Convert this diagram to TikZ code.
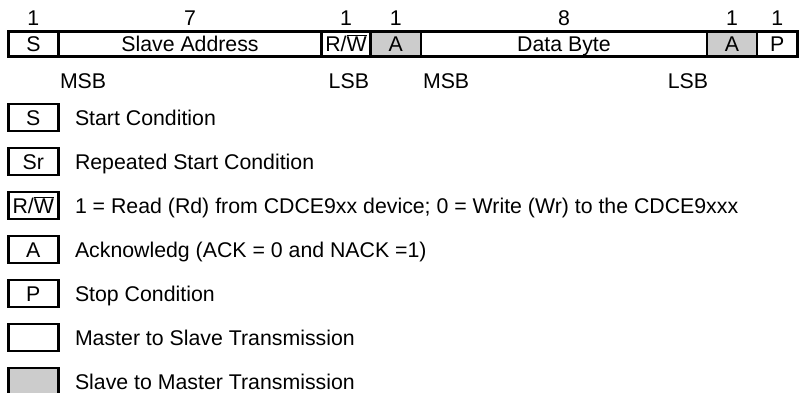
\documentclass[tikz,border=0pt]{standalone}
\usepackage{fontspec}
\setmainfont{Liberation Sans}
\definecolor{slavegray}{RGB}{204,204,204}
\begin{document}
\begin{tikzpicture}[x=1pt,y=-1pt,
  every node/.style={font=\fontsize{21.3}{25}\selectfont, inner sep=0pt, outer sep=0pt},
  cell/.style={draw, line width=2.7pt, minimum height=25.5pt},
  sgray/.style={fill=slavegray},
  lbl/.style={anchor=base},
  lgbox/.style={draw, line width=2.7pt, minimum width=50pt, minimum height=27pt},
  lgtext/.style={anchor=base west}
]
\useasboundingbox (0,0) rectangle (799,392);
% --- frame bar ---
\node[cell, minimum width=50.25pt] (s)   at (33.4,44) {};
\node[cell, minimum width=263pt]   (sa)  at (190,44) {};
\node[cell, minimum width=49pt]    (rw)  at (346,44) {};
\node[cell, sgray, minimum width=50.5pt] (a1) at (395.75,44) {};
\node[cell, minimum width=286pt]   (db)  at (564,44) {};
\node[cell, sgray, minimum width=50pt]   (a2) at (732,44) {};
\node[cell, minimum width=40.5pt]  (p)   at (777.25,44) {};
% labels in cells
\node[lbl] (ts)  at (33.4,51.5) {S};
\node[lbl] (tsa) at (190,51.5) {Slave Address};
\node[lbl] (trw) at (346,51.5) {R/$\overline{\hbox{W}}$};
\node[lbl] (ta1) at (395.75,51.5) {A};
\node[lbl] (tdb) at (564,51.5) {Data Byte};
\node[lbl] (ta2) at (732,51.5) {A};
\node[lbl] (tp)  at (777.25,51.5) {P};
% bit counts
\node[lbl] (n1) at (33.4,25.5) {1};
\node[lbl] (n2) at (190,25.5) {7};
\node[lbl] (n3) at (346,25.5) {1};
\node[lbl] (n4) at (395.75,25.5) {1};
\node[lbl] (n5) at (564,25.5) {8};
\node[lbl] (n6) at (732,25.5) {1};
\node[lbl] (n7) at (777.25,25.5) {1};
% MSB / LSB
\node[anchor=base west] (msb1) at (60,88.5) {MSB};
\node[anchor=base east] (lsb1) at (369,88.5) {LSB};
\node[anchor=base west] (msb2) at (423,88.5) {MSB};
\node[anchor=base east] (lsb2) at (708,88.5) {LSB};
% --- legend ---
\node[lgbox] (ls) at (33.25,117.5) {};
\node[lbl] at (33.25,125) {S};
\node[lgtext] (lst) at (75,125) {Start Condition};
\node[lgbox] (lsr) at (33.25,161.5) {};
\node[lbl] at (33.25,169) {Sr};
\node[lgtext] (lsrt) at (75,169) {Repeated Start Condition};
\node[lgbox] (lrw) at (33.25,205.5) {};
\node[lbl] at (33.25,213) {R/$\overline{\hbox{W}}$};
\node[lgtext] (lrwt) at (75,213) {1 = Read (Rd) from CDCE9xx device; 0 = Write (Wr) to the CDCE9xxx};
\node[lgbox] (la) at (33.25,249.5) {};
\node[lbl] at (33.25,257) {A};
\node[lgtext] (lat) at (75,257) {Acknowledg (ACK = 0 and NACK =1)};
\node[lgbox] (lp) at (33.25,293.5) {};
\node[lbl] at (33.25,301) {P};
\node[lgtext] (lpt) at (75,301) {Stop Condition};
\node[lgbox] (lm) at (33.25,337.5) {};
\node[lgtext] (lmt) at (75,345) {Master to Slave Transmission};
\node[lgbox, sgray] (lsl) at (33.25,381.5) {};
\node[lgtext] (lslt) at (75,389) {Slave to Master Transmission};
\end{tikzpicture}
\end{document}
